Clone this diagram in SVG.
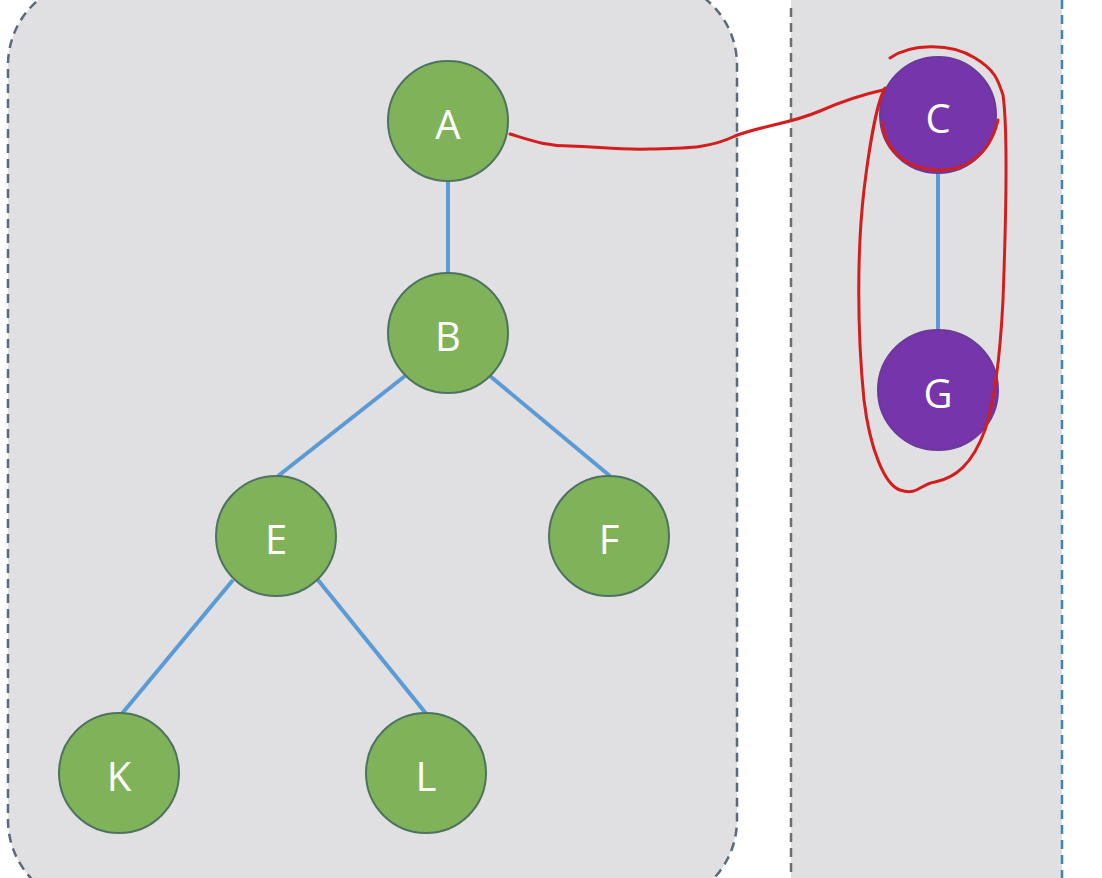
<svg xmlns="http://www.w3.org/2000/svg" width="1102" height="878" viewBox="0 0 1102 878">
<style>
.panel{fill:#e0dfe2;stroke-width:2.5;stroke-dasharray:9 6}
.edge{stroke:#5b9bd5;stroke-width:4;fill:none}
.g{fill:#80b25a;stroke:#4d7360;stroke-width:2}
.p{fill:#7635aa;stroke:#6a3a9a;stroke-width:2}
.t{fill:#ffffff;font-family:"Open Sans","Liberation Sans",sans-serif;font-size:40px;text-anchor:middle;dominant-baseline:central}
.ink{stroke:#d41e1e;stroke-width:3;fill:none;stroke-linecap:round;stroke-linejoin:round}
</style>
<rect width="1102" height="878" fill="#ffffff"/>
<g id="panel-left"><rect class="panel" x="8" y="-20" width="729" height="925" rx="85" ry="85" stroke="#5a6a7a"/></g>
<g id="panel-right">
<rect x="791" y="-20" width="271" height="920" rx="12" fill="#e0dfe2"/>
<line x1="791" y1="8" x2="791" y2="878" stroke="#6e6e6e" stroke-width="2.5" stroke-dasharray="9 6"/>
<line x1="1062" y1="0" x2="1062" y2="878" stroke="#3b84b8" stroke-width="2.5" stroke-dasharray="9 6"/>
</g>
<g id="connectors">
<line class="edge" x1="448" y1="180" x2="448" y2="275"/>
<line class="edge" x1="405" y1="376" x2="278" y2="476"/>
<line class="edge" x1="490" y1="376" x2="610" y2="476"/>
<line class="edge" x1="233" y1="580" x2="120" y2="716"/>
<line class="edge" x1="318" y1="580" x2="428" y2="716"/>
<line class="edge" x1="938" y1="172" x2="938" y2="334"/>
</g>
<g id="node-A"><circle class="g" cx="448" cy="121" r="60"/><text class="t" x="448" y="123">A</text></g>
<g id="node-B"><circle class="g" cx="448" cy="333" r="60"/><text class="t" x="448" y="335">B</text></g>
<g id="node-E"><circle class="g" cx="276" cy="536" r="60"/><text class="t" x="276" y="538">E</text></g>
<g id="node-F"><circle class="g" cx="609" cy="536" r="60"/><text class="t" x="609" y="538">F</text></g>
<g id="node-K"><circle class="g" cx="119" cy="773" r="60"/><text class="t" x="119" y="775">K</text></g>
<g id="node-L"><circle class="g" cx="426" cy="773" r="60"/><text class="t" x="426" y="775">L</text></g>
<g id="node-C"><circle class="p" cx="938" cy="115" r="58"/><text class="t" x="938" y="117">C</text></g>
<g id="node-G"><circle class="p" cx="938" cy="390" r="60"/><text class="t" x="938" y="392">G</text></g>
<g id="annotations">
<path class="ink" d="M510,134 C530,140 545,146 570,146 C600,147 620,150 650,149 C690,148 710,148 735,136 C760,126 790,124 820,111 C845,100 865,94 883,90"/>
<path class="ink" d="M890,58 C910,44 950,42 975,58 C995,70 998,80 1003,95 C1008,130 1006,220 1003,300 C1000,360 995,400 985,430 C972,465 955,478 935,482 C920,484 918,496 900,490 C885,485 870,450 864,400 C857,330 857,250 864,190 C870,140 878,100 885,88"/>
<path class="ink" d="M882,122 C885,150 905,168 935,170 C965,172 990,155 998,120"/>
</g>
</svg>
